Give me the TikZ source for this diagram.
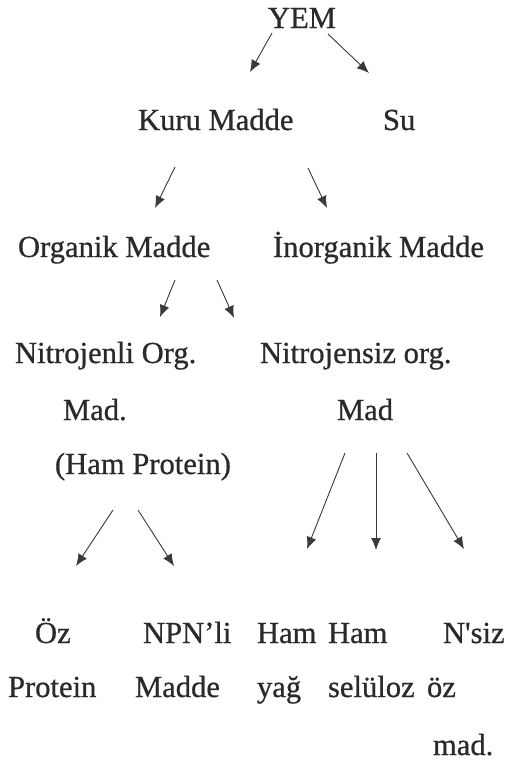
\documentclass[tikz,border=0pt]{standalone}
\usepackage{fontspec}
\newfontfamily\lserif{Liberation Serif}[FakeBold=0.7]
\usetikzlibrary{arrows.meta}
\definecolor{ink}{HTML}{2A2A2A}
\definecolor{lineink}{HTML}{3A3A3A}
\tikzset{
  lbl/.style={anchor=base west, inner sep=0pt, outer sep=0pt, text=ink,
              font=\lserif\fontsize{30.6}{36}\selectfont},
  arr/.style={draw=lineink, line width=0.9pt, -{Latex[length=12pt,width=10pt]}}
}
\begin{document}
\begin{tikzpicture}[x=1pt,y=-1pt]
\useasboundingbox[fill=white] (0,0) rectangle (511,763);
% texts
\node[lbl] (yem) at (268,28) {YEM};
\node[lbl] (kuru) at (138,130) {Kuru Madde};
\node[lbl] (su) at (383,130) {Su};
\node[lbl] (org) at (18,257) {Organik Madde};
\node[lbl] (inorg) at (273,257) {İnorganik Madde};
\node[lbl] (nitroA) at (15,363) {Nitrojenli Org.};
\node[lbl] (nitroB) at (260,363) {Nitrojensiz org.};
\node[lbl] (madA) at (63,420) {Mad.};
\node[lbl] (madB) at (337,420) {Mad};
\node[lbl] (hamp) at (55,474) {(Ham Protein)};
\node[lbl] (oz) at (35,643) {Öz};
\node[lbl] (npn) at (143,643) {NPN’li};
\node[lbl] (hamy) at (257,643) {Ham};
\node[lbl] (hams) at (328,643) {Ham};
\node[lbl] (nsiz) at (443,643) {N'siz};
\node[lbl] (protein) at (8,697) {Protein};
\node[lbl] (madde) at (135,697) {Madde};
\node[lbl] (yag) at (257,697) {yağ};
\node[lbl] (selu) at (328,697) {selüloz};
\node[lbl] (ozm) at (427,697) {öz};
\node[lbl] (madm) at (433,755) {mad.};
% arrow end points
\coordinate (y1s) at (272,33);  \coordinate (y1e) at (250,72);
\coordinate (y2s) at (328,34);  \coordinate (y2e) at (369,73);
\coordinate (k1s) at (175,167); \coordinate (k1e) at (155,208);
\coordinate (k2s) at (308,168); \coordinate (k2e) at (327,208);
\coordinate (o1s) at (175,280); \coordinate (o1e) at (160,317);
\coordinate (o2s) at (217,280); \coordinate (o2e) at (234,318);
\coordinate (h1s) at (113,510); \coordinate (h1e) at (76,566);
\coordinate (h2s) at (138,510); \coordinate (h2e) at (174,566);
\coordinate (m1s) at (345,453); \coordinate (m1e) at (307,549);
\coordinate (m2s) at (376,453); \coordinate (m2e) at (376,550);
\coordinate (m3s) at (407,453); \coordinate (m3e) at (464,549);
% arrows
\draw[arr] (y1s) -- (y1e);
\draw[arr] (y2s) -- (y2e);
\draw[arr] (k1s) -- (k1e);
\draw[arr] (k2s) -- (k2e);
\draw[arr] (o1s) -- (o1e);
\draw[arr] (o2s) -- (o2e);
\draw[arr] (h1s) -- (h1e);
\draw[arr] (h2s) -- (h2e);
\draw[arr] (m1s) -- (m1e);
\draw[arr] (m2s) -- (m2e);
\draw[arr] (m3s) -- (m3e);
\end{tikzpicture}
\end{document}
